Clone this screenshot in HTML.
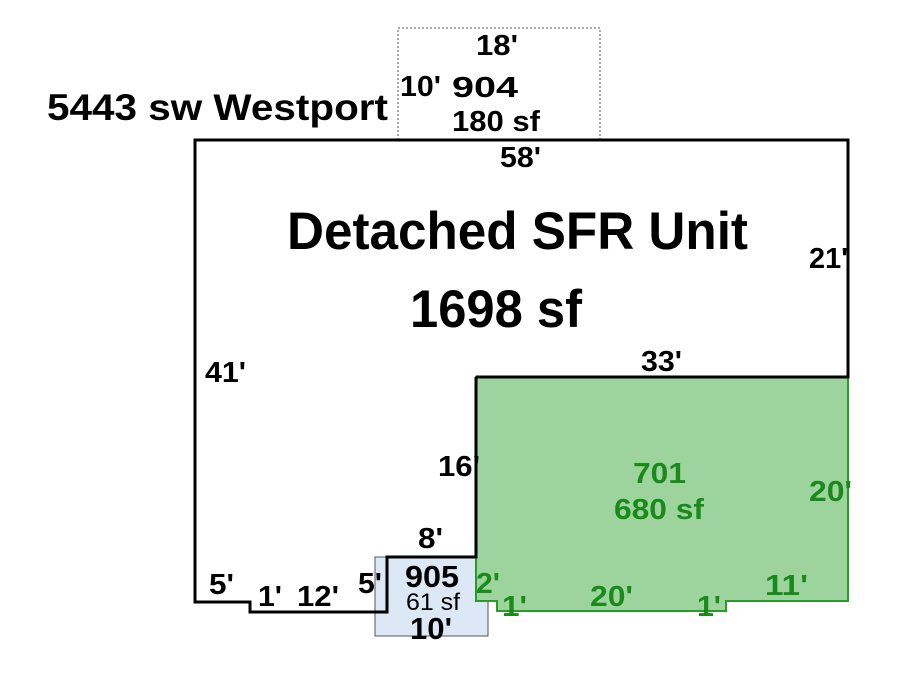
<!DOCTYPE html>
<html><head><style>
body{margin:0;background:#fff;}
svg text{font-family:"Liberation Sans",Arial,sans-serif;font-weight:bold;}
</style></head><body>
<svg width="900" height="675" viewBox="0 0 900 675" xmlns="http://www.w3.org/2000/svg">
<rect x="0" y="0" width="900" height="675" fill="#fff"/>
<rect x="398" y="28" width="202" height="112" fill="none" stroke="#555" stroke-width="1" stroke-dasharray="2,2"/>
<rect x="375" y="557" width="113" height="79" fill="#dce8f5" stroke="#555" stroke-width="1"/>
<polygon points="476,377 848,377 848,601 726,601 726,611 497,611 497,601 476,601" fill="#9dd49d" stroke="#2a9a2a" stroke-width="2"/>
<polyline points="476,377 848,377 848,140 195,140 195,602 250,602 250,612 387,612 387,557 476,557 476,377" fill="none" stroke="#000" stroke-width="3"/>
<g>
<text x="47" y="120" font-size="37" textLength="341" lengthAdjust="spacingAndGlyphs">5443 sw Westport</text>
<text x="476" y="55" font-size="29" textLength="42" lengthAdjust="spacingAndGlyphs">18'</text>
<text x="400" y="96" font-size="29" textLength="41" lengthAdjust="spacingAndGlyphs">10'</text>
<text x="452" y="97" font-size="29" textLength="66" lengthAdjust="spacingAndGlyphs">904</text>
<text x="452" y="131" font-size="29" textLength="88" lengthAdjust="spacingAndGlyphs">180 sf</text>
<text x="500" y="167" font-size="29" textLength="41" lengthAdjust="spacingAndGlyphs">58'</text>
<text x="287" y="249" font-size="53" textLength="461" lengthAdjust="spacingAndGlyphs">Detached SFR Unit</text>
<text x="410" y="327" font-size="53" textLength="172" lengthAdjust="spacingAndGlyphs">1698 sf</text>
<text x="809" y="268" font-size="29" textLength="39" lengthAdjust="spacingAndGlyphs">21'</text>
<text x="205" y="382" font-size="29" textLength="41" lengthAdjust="spacingAndGlyphs">41'</text>
<text x="641" y="371" font-size="29" textLength="41" lengthAdjust="spacingAndGlyphs">33'</text>
<text x="438" y="476" font-size="29" textLength="42" lengthAdjust="spacingAndGlyphs">16'</text>
<text x="418" y="548" font-size="29" textLength="25" lengthAdjust="spacingAndGlyphs">8'</text>
<text x="209" y="594" font-size="29" textLength="25" lengthAdjust="spacingAndGlyphs">5'</text>
<text x="258" y="606" font-size="29" textLength="24" lengthAdjust="spacingAndGlyphs">1'</text>
<text x="297" y="606" font-size="29" textLength="42" lengthAdjust="spacingAndGlyphs">12'</text>
<text x="358" y="593" font-size="29" textLength="24" lengthAdjust="spacingAndGlyphs">5'</text>
<text x="405" y="587" font-size="31" textLength="54" lengthAdjust="spacingAndGlyphs">905</text>
<text x="406" y="610" font-size="24" textLength="54" lengthAdjust="spacingAndGlyphs" style="font-weight:normal">61 sf</text>
<text x="410" y="639" font-size="31" textLength="42" lengthAdjust="spacingAndGlyphs">10'</text>
<g fill="#1a8a1a">
<text x="633" y="483" font-size="29" textLength="53" lengthAdjust="spacingAndGlyphs">701</text>
<text x="614" y="519" font-size="29" textLength="90" lengthAdjust="spacingAndGlyphs">680 sf</text>
<text x="809" y="501" font-size="29" textLength="43" lengthAdjust="spacingAndGlyphs">20'</text>
<text x="476" y="593" font-size="29" textLength="24" lengthAdjust="spacingAndGlyphs">2'</text>
<text x="502" y="616" font-size="29" textLength="25" lengthAdjust="spacingAndGlyphs">1'</text>
<text x="590" y="606" font-size="29" textLength="43" lengthAdjust="spacingAndGlyphs">20'</text>
<text x="697" y="616" font-size="29" textLength="24" lengthAdjust="spacingAndGlyphs">1'</text>
<text x="765" y="595" font-size="29" textLength="43" lengthAdjust="spacingAndGlyphs">11'</text>
</g>
</g>
</svg>
</body></html>
